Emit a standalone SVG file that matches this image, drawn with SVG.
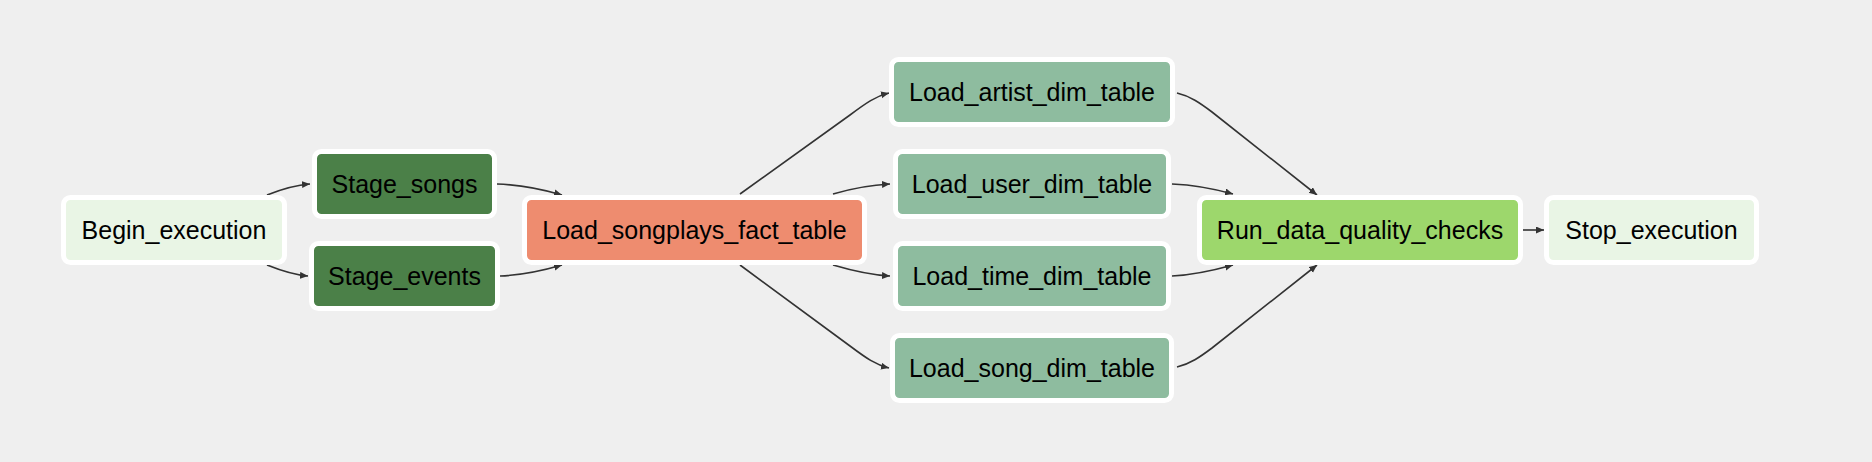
<svg xmlns="http://www.w3.org/2000/svg" width="1872" height="462" viewBox="0 0 1872 462">
<defs>
<marker id="arr" markerWidth="9" markerHeight="8" refX="8" refY="3.5" orient="auto" markerUnits="userSpaceOnUse">
<path d="M0,0 L8,3.5 L0,7 z" fill="#333333"/>
</marker>
<style>
.n rect{stroke:#ffffff;stroke-width:5}
.n text{font-family:"Liberation Sans",Arial,Helvetica,sans-serif;font-size:25px;fill:#000000;text-anchor:middle}
.e path{fill:none;stroke:#333333;stroke-width:1.6;marker-end:url(#arr)}
.dummy{fill:#e9f5e5}
.stage{fill:#4b8048}
.fact{fill:#ee8c6f}
.dim{fill:#8ebc9f}
.dq{fill:#9dd76c}
</style>
</defs>
<rect x="0" y="0" width="1872" height="462" fill="#efefef"/>
<g id="edges" class="e">
<path d="M267,195 C282,189 296,185 310,184"/>
<path d="M267,265 C282,271 295,275 308,276"/>
<path d="M497,184 C525,185 545,190 562,195"/>
<path d="M500,276 C525,275 545,270 562,265"/>
<path d="M740,194 L850,115 C866,103 876,96 889,93"/>
<path d="M833,194 C850,189 870,185 890,184"/>
<path d="M833,265 C850,270 870,275 890,276"/>
<path d="M740,265 L850,346 C866,358 876,365 889,368"/>
<path d="M1177,93 C1190,96 1200,103 1212,112 L1317,195"/>
<path d="M1172,184 C1195,185 1215,189 1233,194"/>
<path d="M1172,276 C1195,275 1215,270 1233,265"/>
<path d="M1177,367 C1190,364 1200,357 1212,348 L1317,265"/>
<path d="M1523,230 L1544,230"/>
</g>
<g id="Begin_execution" class="n"><rect class="dummy" x="63.5" y="197.5" width="221" height="65" rx="7"/><text x="174" y="239">Begin_execution</text></g>
<g id="Stage_songs" class="n"><rect class="stage" x="314.5" y="151.5" width="180" height="65" rx="7"/><text x="404.5" y="193">Stage_songs</text></g>
<g id="Stage_events" class="n"><rect class="stage" x="311.5" y="243.5" width="186" height="65" rx="7"/><text x="404.5" y="285">Stage_events</text></g>
<g id="Load_songplays_fact_table" class="n"><rect class="fact" x="524.5" y="197.5" width="340" height="65" rx="7"/><text x="694.5" y="239">Load_songplays_fact_table</text></g>
<g id="Load_artist_dim_table" class="n"><rect class="dim" x="891.5" y="59.5" width="281" height="65" rx="7"/><text x="1032" y="101">Load_artist_dim_table</text></g>
<g id="Load_user_dim_table" class="n"><rect class="dim" x="895.5" y="151.5" width="273" height="65" rx="7"/><text x="1032" y="193">Load_user_dim_table</text></g>
<g id="Load_time_dim_table" class="n"><rect class="dim" x="895.5" y="243.5" width="273" height="65" rx="7"/><text x="1032" y="285">Load_time_dim_table</text></g>
<g id="Load_song_dim_table" class="n"><rect class="dim" x="892.5" y="335.5" width="279" height="65" rx="7"/><text x="1032" y="377">Load_song_dim_table</text></g>
<g id="Run_data_quality_checks" class="n"><rect class="dq" x="1199.5" y="197.5" width="321" height="65" rx="7"/><text x="1360" y="239">Run_data_quality_checks</text></g>
<g id="Stop_execution" class="n"><rect class="dummy" x="1546.5" y="197.5" width="210" height="65" rx="7"/><text x="1651.5" y="239">Stop_execution</text></g>
</svg>
